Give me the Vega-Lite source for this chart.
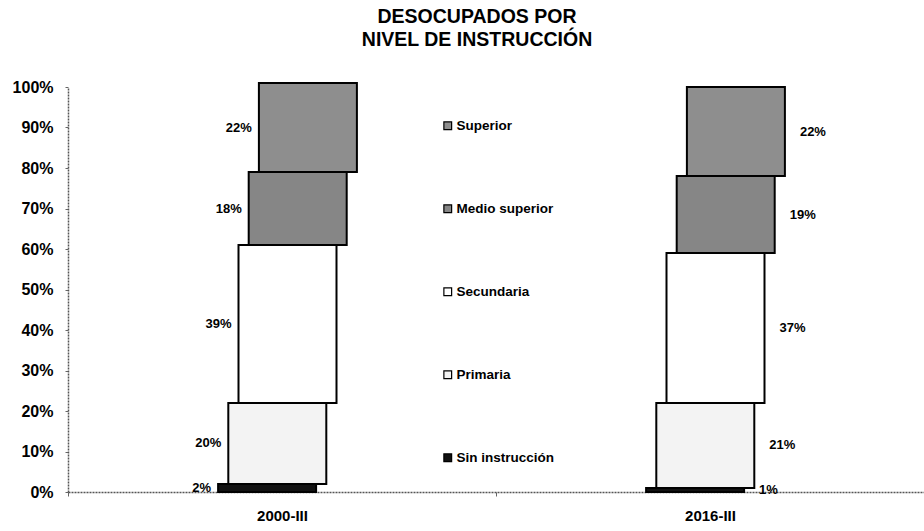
{
  "$schema": "https://vega.github.io/schema/vega-lite/v6.json",
  "width": 856,
  "height": 405,
  "autosize": {"type": "none"},
  "padding": {"left": 68, "top": 87, "right": 0, "bottom": 39},
  "config": {"font": "Liberation Sans", "view": {"stroke": null}},
  "title": {"text": ["DESOCUPADOS POR", "NIVEL DE INSTRUCCIÓN"], "fontSize": 19.5, "fontWeight": "bold", "lineHeight": 22.5, "offset": 29, "anchor": "middle", "dx": -19, "color": "#000"},
  "data": {"values": [
    {"periodo": "2000-III", "nivel": "Sin instrucción", "pct": 2},
    {"periodo": "2000-III", "nivel": "Primaria", "pct": 20},
    {"periodo": "2000-III", "nivel": "Secundaria", "pct": 39},
    {"periodo": "2000-III", "nivel": "Medio superior", "pct": 18},
    {"periodo": "2000-III", "nivel": "Superior", "pct": 22},
    {"periodo": "2016-III", "nivel": "Sin instrucción", "pct": 1},
    {"periodo": "2016-III", "nivel": "Primaria", "pct": 21},
    {"periodo": "2016-III", "nivel": "Secundaria", "pct": 37},
    {"periodo": "2016-III", "nivel": "Medio superior", "pct": 19},
    {"periodo": "2016-III", "nivel": "Superior", "pct": 22}
  ]},
  "transform": [
    {"calculate": "indexof(['Sin instrucción','Primaria','Secundaria','Medio superior','Superior'], datum.nivel)", "as": "orden"},
    {"stack": "pct", "groupby": ["periodo"], "sort": [{"field": "orden", "order": "ascending"}], "as": ["y0", "y1"]},
    {"calculate": "(datum.y0 + datum.y1) / 2", "as": "ymid"},
    {"calculate": "datum.pct + '%'", "as": "etiqueta"}
  ],
  "encoding": {
    "x": {
      "field": "periodo", "type": "nominal",
      "scale": {"paddingInner": 0, "paddingOuter": 0},
      "axis": {"title": null, "labelAngle": 0, "labelFontSize": 15, "labelFontWeight": "bold", "labelColor": "#000", "labelPadding": 12, "tickBand": "extent", "tickSize": 4, "tickColor": "#666", "domainColor": "#555", "domainDash": [2, 1], "domainWidth": 1.5}
    },
    "xOffset": {
      "field": "nivel", "type": "nominal",
      "sort": ["Sin instrucción", "Primaria", "Secundaria", "Medio superior", "Superior"],
      "scale": {"range": [194, 245]}
    }
  },
  "layer": [
    {
      "mark": {"type": "bar", "width": 98, "stroke": "#000", "strokeWidth": 2},
      "encoding": {
        "y": {"field": "y0", "type": "quantitative", "scale": {"domain": [0, 100]},
          "axis": {"title": null, "values": [0, 10, 20, 30, 40, 50, 60, 70, 80, 90, 100], "labelExpr": "datum.value + '%'", "labelFontSize": 16, "labelFontWeight": "bold", "labelColor": "#000", "labelPadding": 12, "tickSize": 3, "tickColor": "#666", "grid": false, "domainColor": "#555", "domainDash": [2, 1], "domainWidth": 1.5}},
        "y2": {"field": "y1"},
        "color": {
          "field": "nivel", "type": "nominal",
          "sort": ["Superior", "Medio superior", "Secundaria", "Primaria", "Sin instrucción"],
          "scale": {"domain": ["Superior", "Medio superior", "Secundaria", "Primaria", "Sin instrucción"], "range": ["#8e8e8e", "#868686", "#ffffff", "#f3f3f3", "#111111"]},
          "legend": {"title": null, "orient": "none", "legendX": 373, "legendY": 32, "direction": "vertical", "symbolType": "square", "symbolSize": 60, "symbolStrokeColor": "#000", "symbolStrokeWidth": 1.2, "labelFontSize": 13.5, "labelFontWeight": "bold", "labelColor": "#000", "labelOffset": 2, "rowPadding": 68}
        }
      }
    },
    {
      "transform": [{"filter": "datum.periodo == '2000-III'"}],
      "mark": {"type": "text", "align": "right", "baseline": "middle", "dx": -56, "fontSize": 13, "fontWeight": "bold", "color": "#000"},
      "encoding": {"y": {"field": "ymid", "type": "quantitative"}, "text": {"field": "etiqueta"}}
    },
    {
      "transform": [{"filter": "datum.periodo == '2016-III'"}],
      "mark": {"type": "text", "align": "left", "baseline": "middle", "dx": 64, "fontSize": 13, "fontWeight": "bold", "color": "#000"},
      "encoding": {"y": {"field": "ymid", "type": "quantitative"}, "text": {"field": "etiqueta"}}
    }
  ]
}
